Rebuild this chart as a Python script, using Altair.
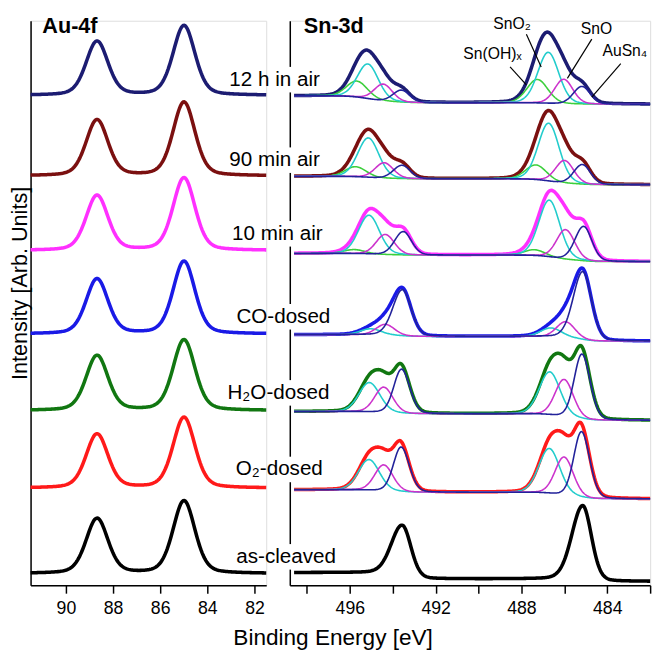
import numpy as np
import pandas as pd
import altair as alt

FONT = "Liberation Sans"

# ---------------- series ----------------
SERIES = ["12 h in air", "90 min air", "10 min air", "CO-dosed", "H₂O-dosed", "O₂-dosed", "as-cleaved"]
SERIES_COLORS = ["#1c1c72", "#7b1010", "#ff30ff", "#1a1ae6", "#117711", "#ff1a1a", "#000000"]
LABEL_E = [499.51, 499.51, 499.38, 499.10, 499.33, 499.29, 498.97]
LABEL_Y = [515, 433, 358, 273.5, 196, 118, 29]
LABEL_GAP = 13  # half height of the white gap the labels cut in the Sn-3d axis line

# ---------------- Au 4f (peak parameters) ----------------
AU_PEAK_E = [88.68, 84.99]
AU_FWHM = 1.1
AU_BASE = [499, 417, 341, 256, 178, 99, 12]
AU_H_5_2 = [55, 57, 56, 56, 56, 55, 56]
AU_H_7_2 = [71, 75, 74, 74, 72, 72, 74]

# ---------------- Sn 3d ----------------
# background level at 482 eV, between the doublet lines, and at 498.6 eV
SN_BG_LOW = [490, 408, 329.7, 248.7, 168, 88, 4]
SN_BG_MID = [491.5, 414, 336.3, 253.5, 174.7, 94.7, 6.5]
SN_BG_HIGH = [498.5, 416.5, 338, 255.3, 177, 97.3, 13]
SHOW_COMPONENTS = [True, True, True, True, True, True, False]

COMPONENTS = ["Sn(OH)x", "SnO2", "SnO", "AuSn4"]
COMP_COLORS = ["#3ccf3c", "#22cccc", "#cc33cc", "#22229a"]
COMP_FWHM = [1.15, 1.15, 1.0, None]
# AuSn4 line widths on its high-BE and low-BE side, per spectrum
AUSN4_W_HI = [0.95, 0.95, 0.95, 1.05, 0.85, 0.85, 1.2]
AUSN4_W_LO = [0.9, 0.9, 0.9, 0.95, 0.9, 0.9, 0.95]
# 3d5/2 position (eV) and height for each spectrum (0 = component absent)
SNOH_E = [487.26, 487.32, 487.39, 0, 0, 0, 0]
SNOH_H = [24, 15, 6, 0, 0, 0, 0]
SNO2_E = [486.75, 486.73, 486.70, 486.62, 486.68, 486.70, 0]
SNO2_H = [52, 59, 58, 9, 44, 46, 0]
SNO_E = [486.03, 485.99, 485.94, 485.94, 486.01, 486.01, 0]
SNO_H = [25, 23, 30, 16, 38, 39, 0]
AUSN4_E = [485.18, 485.16, 485.10, 485.14, 485.18, 485.20, 485.14]
AUSN4_H = [18, 20, 35, 69, 66, 67, 76]
SO_SPLIT = 8.41
RATIO_3_2 = 0.68

COMP_LABELS = ["Sn(OH)ₓ", "SnO₂", "SnO", "AuSn₄"]
COMP_LABEL_E = [489.35, 488.44, 484.5, 483.18]
COMP_LABEL_Y = [541, 580, 566, 544]
COMP_LABEL_BASE = ["middle", "top", "middle", "middle"]
PTR_E1 = [488.53, 487.77, 484.72, 483.37]
PTR_Y1 = [528, 561.3, 556.3, 531.3]
PTR_E2 = [487.77, 487.08, 485.86, 484.72]
PTR_Y2 = [509.7, 528, 516.3, 497.3]

PANEL_TITLES = ["Au-4f", "Sn-3d"]
PANEL_TITLE_E = [89.83, 496.75]
PANEL_TITLE_Y = [580, 580]

Y_MAX = 575
SN_LEFT = 498.8


def pv(E, E0, h, w_hi, w_lo, eta):
    w = np.where(E > E0, w_hi, w_lo)
    g = np.exp(-4 * np.log(2) * (E - E0) ** 2 / w ** 2)
    l = 1.0 / (1.0 + 4 * (E - E0) ** 2 / w ** 2)
    return h * ((1 - eta) * g + eta * l)


# ---- Au table ----
au_grid = np.arange(81.5, 91.5 + 1e-9, 0.04)
rows = []
for i, s in enumerate(SERIES):
    y = (AU_BASE[i] + pv(au_grid, AU_PEAK_E[0], AU_H_5_2[i], AU_FWHM, AU_FWHM, 0.3)
         + pv(au_grid, AU_PEAK_E[1], AU_H_7_2[i], AU_FWHM, AU_FWHM, 0.3))
    for e, v in zip(au_grid, y):
        rows.append({"E": round(float(e), 3), "y": round(float(v), 2), "key": s, "color": SERIES_COLORS[i]})
au_df = pd.DataFrame(rows)

# ---- Sn tables ----
sn_grid = np.arange(482.0, 498.6 + 1e-9, 0.04)
comp_E = [SNOH_E, SNO2_E, SNO_E, AUSN4_E]
comp_H = [SNOH_H, SNO2_H, SNO_H, AUSN4_H]
ETA_SN = 0.15
env_rows, comp_rows = [], []
for i, s in enumerate(SERIES):
    parts5, parts3 = [], []
    for c in range(4):
        if comp_H[c][i] > 0:
            if c == 3:
                whi, wlo = AUSN4_W_HI[i], AUSN4_W_LO[i]
            else:
                whi = wlo = COMP_FWHM[c]
            p5 = pv(sn_grid, comp_E[c][i], comp_H[c][i], whi, wlo, ETA_SN)
            p3 = pv(sn_grid, comp_E[c][i] + SO_SPLIT, comp_H[c][i] * RATIO_3_2, whi, wlo, ETA_SN)
            parts5.append((c, p5))
            parts3.append((c, p3))
    tot5 = sum(p for _, p in parts5)
    tot3 = sum(p for _, p in parts3)
    c5 = np.cumsum(tot5) / np.sum(tot5)
    c3 = np.cumsum(tot3) / np.sum(tot3)
    bg = SN_BG_LOW[i] + (SN_BG_MID[i] - SN_BG_LOW[i]) * c5 + (SN_BG_HIGH[i] - SN_BG_MID[i]) * c3
    env = bg + tot5 + tot3
    for e, v in zip(sn_grid, env):
        env_rows.append({"E": round(float(e), 3), "y": round(float(v), 2), "key": s, "color": SERIES_COLORS[i]})
    if SHOW_COMPONENTS[i]:
        for (c, p5), (_, p3) in zip(parts5, parts3):
            yy = bg + p5 + p3
            k = f"{s}|{COMPONENTS[c]}"
            for e, v in zip(sn_grid, yy):
                comp_rows.append({"E": round(float(e), 3), "y": round(float(v), 2), "key": k,
                                  "color": COMP_COLORS[c], "ord": c})
sn_env_df = pd.DataFrame(env_rows)
sn_comp_df = pd.DataFrame(comp_rows)

labels_df = pd.DataFrame({"E": LABEL_E, "y": LABEL_Y, "text": SERIES})
gap_df = pd.DataFrame({"E1": [SN_LEFT + 0.15] * len(SERIES), "E2": [SN_LEFT - 0.15] * len(SERIES),
                       "y1": [v - LABEL_GAP for v in LABEL_Y], "y2": [v + LABEL_GAP for v in LABEL_Y]})
comp_lab_df = pd.DataFrame({"E": COMP_LABEL_E, "y": COMP_LABEL_Y, "text": COMP_LABELS, "b": COMP_LABEL_BASE})
ptr_df = pd.DataFrame({"E1": PTR_E1, "y1": PTR_Y1, "E2": PTR_E2, "y2": PTR_Y2})
au_title_df = pd.DataFrame({"E": [PANEL_TITLE_E[0]], "y": [PANEL_TITLE_Y[0]], "text": [PANEL_TITLES[0]]})
sn_title_df = pd.DataFrame({"E": [PANEL_TITLE_E[1]], "y": [PANEL_TITLE_Y[1]], "text": [PANEL_TITLES[1]]})

ysc = alt.Scale(domain=[0, Y_MAX], nice=False, zero=False)
au_x = alt.Scale(domain=[81.5, 91.5], reverse=True, nice=False, zero=False)
sn_x = alt.Scale(domain=[482, SN_LEFT], reverse=True, nice=False, zero=False)

axis_common = dict(grid=False, domainColor="black", domainWidth=1.5, tickColor="black", tickWidth=1.5,
                   labelColor="black", labelFont=FONT, labelFontSize=18, titleFont=FONT)

au_x_axis = alt.Axis(values=[90, 88, 86, 84, 82], title=None, tickSize=8, labelPadding=7, format="d", **axis_common)
au_y_axis = alt.Axis(title="Intensity [Arb. Units]", labels=False, ticks=False, titleFontSize=22,
                     titleFontWeight="normal", titleColor="black", titleAngle=270, titleX=-11, titleY=267,
                     titleBaseline="middle", titleAlign="center", **axis_common)
sn_x_axis = alt.Axis(values=list(range(482, 499, 2)), title=None, tickSize=8, labelPadding=7,
                     labelExpr="datum.value % 4 == 0 ? datum.label : ''", **axis_common)
sn_y_axis = alt.Axis(title=None, labels=False, ticks=False, **axis_common)

au_lines = alt.Chart(au_df).mark_line(strokeWidth=3.6).encode(
    x=alt.X("E:Q", scale=au_x, axis=au_x_axis),
    y=alt.Y("y:Q", scale=ysc, axis=au_y_axis),
    color=alt.Color("color:N", scale=None),
    detail="key:N",
)
au_title = alt.Chart(au_title_df).mark_text(font=FONT, fontSize=22, fontWeight="bold", align="center",
                                             baseline="top", color="black").encode(
    x=alt.X("E:Q", scale=au_x), y=alt.Y("y:Q", scale=ysc), text="text:N")
left = alt.layer(au_lines, au_title).properties(width=240, height=Y_MAX)

sn_env = alt.Chart(sn_env_df).mark_line(strokeWidth=3.6).encode(
    x=alt.X("E:Q", scale=sn_x, axis=sn_x_axis),
    y=alt.Y("y:Q", scale=ysc, axis=sn_y_axis),
    color=alt.Color("color:N", scale=None),
    detail="key:N",
)
sn_comp = alt.Chart(sn_comp_df).mark_line(strokeWidth=1.6).encode(
    x=alt.X("E:Q", scale=sn_x),
    y=alt.Y("y:Q", scale=ysc),
    color=alt.Color("color:N", scale=None),
    detail="key:N",
    order=alt.Order("ord:Q"),
)
sn_gaps = alt.Chart(gap_df).mark_rect(color="white").encode(
    x=alt.X("E1:Q", scale=sn_x), x2="E2:Q", y=alt.Y("y1:Q", scale=ysc), y2="y2:Q")
sn_labels = alt.Chart(labels_df).mark_text(font=FONT, fontSize=21, align="center", baseline="middle",
                                           color="black").encode(
    x=alt.X("E:Q", scale=sn_x), y=alt.Y("y:Q", scale=ysc), text="text:N")
sn_comp_labels_mid = alt.Chart(comp_lab_df[comp_lab_df.b == "middle"]).mark_text(
    font=FONT, fontSize=16, align="center", baseline="middle", color="black").encode(
    x=alt.X("E:Q", scale=sn_x), y=alt.Y("y:Q", scale=ysc), text="text:N")
sn_comp_labels_top = alt.Chart(comp_lab_df[comp_lab_df.b == "top"]).mark_text(
    font=FONT, fontSize=16, align="center", baseline="top", color="black").encode(
    x=alt.X("E:Q", scale=sn_x), y=alt.Y("y:Q", scale=ysc), text="text:N")
sn_ptr = alt.Chart(ptr_df).mark_rule(color="black", strokeWidth=1.2).encode(
    x=alt.X("E1:Q", scale=sn_x), x2="E2:Q", y=alt.Y("y1:Q", scale=ysc), y2="y2:Q")
sn_title = alt.Chart(sn_title_df).mark_text(font=FONT, fontSize=22, fontWeight="bold", align="center",
                                             baseline="top", color="black").encode(
    x=alt.X("E:Q", scale=sn_x), y=alt.Y("y:Q", scale=ysc), text="text:N")
right = alt.layer(sn_env, sn_comp, sn_ptr, sn_gaps, sn_comp_labels_mid, sn_comp_labels_top, sn_labels,
                  sn_title).properties(width=367, height=Y_MAX)

chart = alt.hconcat(
    left, right, spacing=24, bounds="flush",
    title=alt.TitleParams("Binding Energy [eV]", orient="bottom", anchor="middle", font=FONT, fontSize=23,
                          fontWeight="normal", color="black", offset=9),
).resolve_scale(x="independent").properties(
    padding={"left": 0, "top": 0, "right": 0, "bottom": 0}
).configure_view(stroke=None).configure(background="white")

chart.save("out.html", embed_options={"renderer": "svg", "actions": False})
